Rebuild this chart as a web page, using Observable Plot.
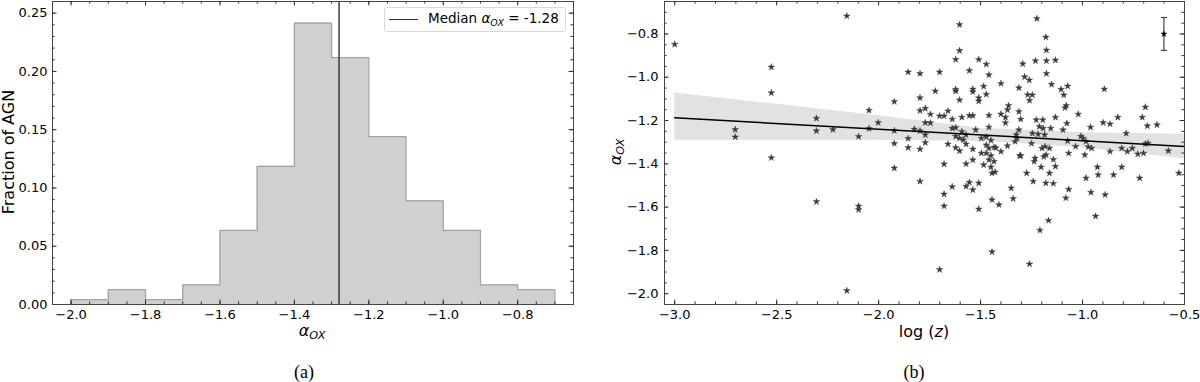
<!DOCTYPE html>
<html>
<head>
<meta charset="utf-8">
<script src="https://cdn.jsdelivr.net/npm/d3@7"></script>
<script src="https://cdn.jsdelivr.net/npm/@observablehq/plot@0.6"></script>
<style>
  html, body { margin: 0; padding: 0; background: #fff; }
  #wrap { position: relative; width: 1200px; height: 382px; overflow: hidden; font-family: "DejaVu Sans", sans-serif; }
  #wrap svg { position: absolute; top: 0; }
  .lbl { position: absolute; transform: translate(-50%, -50%); white-space: nowrap; font-family: "DejaVu Sans", sans-serif; font-size: 16px; color: #000; line-height: 1; }
  .rot { transform: translate(-50%, -50%) rotate(-90deg); }
  .cap { position: absolute; transform: translate(-50%, -50%); font-family: "Liberation Serif", "Times New Roman", serif; font-size: 18px; color: #000; line-height: 1; }
  .m { font-style: italic; }
  .m sub { font-size: 0.7em; font-style: italic; vertical-align: -0.3em; }
  #legend { position: absolute; left: 384px; top: 7px; width: 180px; height: 23px; border: 1px solid #d9d9d9; border-radius: 3px; background: rgba(255,255,255,0.85); font-family: "DejaVu Sans", sans-serif; font-size: 13.5px; }
  #legend .sw { position: absolute; left: 4px; top: 11px; width: 29px; border-top: 1.4px solid #333; }
  #legend .tx { position: absolute; left: 43px; top: 11.5px; transform: translateY(-50%); white-space: nowrap; line-height: 1; }
</style>
</head>
<body>
<div id="wrap"></div>
<script>
// ---------- Panel (a): histogram of alpha_OX ----------
const binStart = [-2.0, -1.9, -1.8, -1.7, -1.6, -1.5, -1.4, -1.3, -1.2, -1.1, -1.0, -0.9, -0.8];
const binEnd = -0.7;
const fraction = [0.0042, 0.0127, 0.0042, 0.0169, 0.0636, 0.1186, 0.2415, 0.2119, 0.1441, 0.0890, 0.0636, 0.0169, 0.0127];
const medianAlpha = -1.28;
const xTicksA = [-2.0, -1.8, -1.6, -1.4, -1.2, -1.0, -0.8];
const yTicksA = [0.00, 0.05, 0.10, 0.15, 0.20, 0.25];

// ---------- Panel (b): alpha_OX vs log z ----------
const logZ = [-3.000,-2.703,-2.703,-2.526,-2.526,-2.526,-2.305,-2.305,-2.305,-2.224,-2.156,-2.156,-2.098,-2.098,-2.098,-2.047,-2.047,-2.002,-1.923,-1.923,
-1.923,-1.923,-1.855,-1.855,-1.855,-1.825,-1.797,-1.797,-1.797,-1.797,-1.797,-1.797,-1.771,-1.771,-1.771,-1.771,-1.746,-1.746,-1.722,-1.701,
-1.701,-1.701,-1.679,-1.679,-1.679,-1.679,-1.660,-1.660,-1.639,-1.639,-1.639,-1.622,-1.622,-1.622,-1.622,-1.622,-1.622,-1.603,-1.603,-1.603,
-1.603,-1.603,-1.592,-1.592,-1.585,-1.571,-1.571,-1.571,-1.571,-1.555,-1.555,-1.555,-1.538,-1.538,-1.538,-1.538,-1.538,-1.538,-1.524,-1.509,
-1.509,-1.509,-1.509,-1.509,-1.496,-1.496,-1.485,-1.485,-1.472,-1.472,-1.472,-1.472,-1.472,-1.459,-1.459,-1.459,-1.459,-1.459,-1.449,-1.449,
-1.449,-1.444,-1.444,-1.444,-1.434,-1.434,-1.429,-1.425,-1.410,-1.400,-1.400,-1.400,-1.378,-1.378,-1.368,-1.363,-1.368,-1.350,-1.340,-1.331,
-1.325,-1.321,-1.312,-1.312,-1.312,-1.308,-1.303,-1.303,-1.293,-1.284,-1.274,-1.269,-1.261,-1.260,-1.260,-1.250,-1.246,-1.246,-1.242,-1.237,
-1.233,-1.231,-1.227,-1.224,-1.218,-1.212,-1.209,-1.203,-1.199,-1.195,-1.193,-1.190,-1.186,-1.184,-1.180,-1.180,-1.179,-1.177,-1.177,-1.177,
-1.167,-1.162,-1.162,-1.156,-1.152,-1.143,-1.143,-1.133,-1.133,-1.133,-1.105,-1.096,-1.092,-1.086,-1.082,-1.080,-1.077,-1.073,-1.073,-1.068,
-1.068,-1.034,-1.021,-1.008,-0.997,-0.989,-0.983,-0.983,-0.972,-0.961,-0.959,-0.955,-0.936,-0.927,-0.923,-0.899,-0.893,-0.889,-0.865,-0.865,
-0.848,-0.827,-0.808,-0.808,-0.786,-0.780,-0.756,-0.729,-0.720,-0.707,-0.701,-0.692,-0.692,-0.682,-0.679,-0.635,-0.579,-0.528];
const alphaOX = [-0.848,-1.242,-1.276,-0.953,-1.072,-1.372,-1.190,-1.248,-1.575,-1.242,-0.717,-1.986,-1.274,-1.595,-1.612,-1.153,-1.237,-1.210,-1.113,-1.247,
-1.306,-1.420,-0.976,-1.283,-1.325,-1.240,-0.983,-1.095,-1.154,-1.248,-1.332,-1.481,-1.144,-1.210,-1.266,-1.302,-1.171,-1.211,-1.064,-0.976,
-1.179,-1.889,-1.179,-1.401,-1.540,-1.595,-1.156,-1.309,-1.194,-1.236,-1.506,-0.918,-1.056,-1.064,-1.233,-1.273,-1.325,-0.757,-0.877,-1.105,
-1.282,-1.340,-1.185,-1.251,-1.289,-1.266,-1.309,-1.400,-1.504,-0.969,-1.177,-1.486,-1.055,-1.067,-1.177,-1.332,-1.382,-1.520,-1.243,-0.918,
-1.095,-1.110,-1.489,-1.609,-1.282,-1.351,-1.042,-1.405,-0.940,-1.079,-1.276,-1.313,-1.351,-0.989,-1.176,-1.231,-1.328,-1.382,-1.292,-1.362,
-1.415,-1.443,-1.566,-1.807,-1.323,-1.389,-1.438,-1.326,-1.589,-1.029,-1.170,-1.343,-1.185,-1.211,-1.151,-1.131,-1.317,-1.512,-1.561,-1.297,
-1.266,-1.282,-1.049,-1.159,-1.243,-1.363,-1.194,-1.362,-0.938,-0.998,-1.443,-1.081,-1.013,-1.107,-1.863,-1.306,-1.082,-1.259,-1.481,-1.389,
-1.374,-0.924,-1.197,-0.729,-1.263,-1.228,-1.707,-1.415,-1.328,-1.197,-1.236,-1.367,-1.266,-1.320,-0.815,-1.489,-1.359,-0.875,-0.924,-0.983,
-1.662,-1.328,-1.443,-1.236,-1.033,-1.380,-1.491,-0.921,-1.185,-1.412,-1.056,-1.243,-1.082,-1.141,-1.558,-1.131,-1.213,-1.041,-1.294,-1.351,
-1.518,-1.320,-1.171,-1.273,-1.282,-1.359,-1.297,-1.466,-1.322,-1.231,-1.532,-1.328,-1.642,-1.415,-1.451,-1.210,-1.055,-1.543,-1.216,-1.343,
-1.451,-1.185,-1.328,-1.415,-1.259,-1.343,-1.328,-1.355,-1.466,-1.185,-1.351,-1.138,-1.308,-1.225,-1.305,-1.220,-1.340,-1.443];
// regression fit and its confidence band
const fitX = [-3.0, -0.5];
const fitY = [-1.187, -1.320];
const bandX = [-3.0, -2.5, -2.0, -1.5, -1.0, -0.5];
const bandHi = [-1.073, -1.125, -1.178, -1.236, -1.257, -1.263];
const bandLo = [-1.291, -1.291, -1.291, -1.296, -1.326, -1.377];
// typical error bar
const errX = [-0.601];
const errY = [-0.80];
const errHi = [-0.724];
const errLo = [-0.876];
const xTicksB = [-3.0, -2.5, -2.0, -1.5, -1.0, -0.5];
const yTicksB = [-2.0, -1.8, -1.6, -1.4, -1.2, -1.0, -0.8];

// ---------- helpers ----------
const H = 382, MT = 1, MB = 78;
const FH = H - MT - MB;
const MAJ = 4.5, MIN = 2.6;
const tickCol = "#333";
function stepTicks(lo, hi, step) {
  const n = Math.round((hi - lo) / step);
  const out = [];
  for (let i = 0; i <= n; i++) out.push(+(lo + i * step).toFixed(4));
  return out;
}
function insideTicks(xMaj, xMin, yMaj, yMin, fw) {
  const s = {stroke: tickCol, strokeWidth: 1};
  return [
    Plot.tickX(xMaj, {x: d => d, insetTop: FH - MAJ, ...s}),
    Plot.tickX(xMaj, {x: d => d, insetBottom: FH - MAJ, ...s}),
    Plot.tickX(xMin, {x: d => d, insetTop: FH - MIN, ...s}),
    Plot.tickX(xMin, {x: d => d, insetBottom: FH - MIN, ...s}),
    Plot.tickY(yMaj, {y: d => d, insetRight: fw - MAJ, ...s}),
    Plot.tickY(yMaj, {y: d => d, insetLeft: fw - MAJ, ...s}),
    Plot.tickY(yMin, {y: d => d, insetRight: fw - MIN, ...s}),
    Plot.tickY(yMin, {y: d => d, insetLeft: fw - MIN, ...s})
  ];
}
const baseStyle = {fontFamily: "DejaVu Sans, sans-serif", fontSize: "13px", color: "#000", background: "transparent", overflow: "visible"};

// ---------- build panel (a) ----------
const histPts = binStart.map((x, i) => ({x, y: fraction[i]}));
histPts.push({x: binEnd, y: fraction[fraction.length - 1]});
const outline = [{x: binStart[0], y: 0}, ...histPts, {x: binEnd, y: 0}];
const mlA = 52, mrA = 27, fwA = 600 - mlA - mrA;
const plotA = Plot.plot({
  width: 600, height: H,
  marginLeft: mlA, marginRight: mrA, marginTop: MT, marginBottom: MB,
  x: {domain: [-2.05, -0.65]},
  y: {domain: [0, 0.26]},
  style: baseStyle,
  marks: [
    Plot.areaY(histPts, {x: "x", y: "y", curve: "step-after", fill: "#d0d0d0"}),
    Plot.line(outline, {x: "x", y: "y", curve: "step-after", stroke: "#a3a3a3", strokeWidth: 1.3}),
    Plot.ruleX([medianAlpha], {stroke: "#222", strokeWidth: 1.3}),
    ...insideTicks(xTicksA, stepTicks(-2.05, -0.65, 0.05), yTicksA, stepTicks(0, 0.26, 0.01), fwA),
    Plot.frame({stroke: "#444", strokeWidth: 1}),
    Plot.axisX(xTicksA, {tickSize: 0, tickPadding: 5, tickFormat: d3.format(".1f"), label: null}),
    Plot.axisY(yTicksA, {tickSize: 0, tickPadding: 5, tickFormat: d3.format(".2f"), label: null})
  ]
});
plotA.style.left = "0px";

// ---------- build panel (b) ----------
const pts = logZ.map((x, i) => ({x, y: alphaOX[i]}));
const fit = fitX.map((x, i) => ({x, y: fitY[i]}));
const band = bandX.map((x, i) => ({x, hi: bandHi[i], lo: bandLo[i]}));
const err = errX.map((x, i) => ({x, y: errY[i], hi: errHi[i], lo: errLo[i]}));
const capSymbol = {draw(ctx, size) { const w = Math.sqrt(size / Math.PI); ctx.moveTo(-w, 0); ctx.lineTo(w, 0); }};
const mlB = 64, mrB = 16, fwB = 600 - mlB - mrB;
const plotB = Plot.plot({
  width: 600, height: H,
  marginLeft: mlB, marginRight: mrB, marginTop: MT, marginBottom: MB,
  x: {domain: [-3.05, -0.5]},
  y: {domain: [-2.05, -0.65]},
  style: baseStyle,
  marks: [
    Plot.areaY(band, {x: "x", y1: "lo", y2: "hi", fill: "#e2e2e2"}),
    Plot.dot(pts, {x: "x", y: "y", symbol: "star", r: 2.1, fill: "#3a3a3a", stroke: "#3a3a3a", strokeWidth: 0.4}),
    Plot.line(fit, {x: "x", y: "y", stroke: "#000", strokeWidth: 1.5}),
    Plot.ruleX(err, {x: "x", y1: "lo", y2: "hi", stroke: "#444", strokeWidth: 1.2}),
    Plot.dot(err, {x: "x", y: "hi", symbol: capSymbol, r: 3, fill: "none", stroke: "#444", strokeWidth: 1.2}),
    Plot.dot(err, {x: "x", y: "lo", symbol: capSymbol, r: 3, fill: "none", stroke: "#444", strokeWidth: 1.2}),
    Plot.dot(err, {x: "x", y: "y", symbol: "star", r: 2.2, fill: "#000", stroke: "none"}),
    ...insideTicks(xTicksB, stepTicks(-3.0, -0.5, 0.1), yTicksB, stepTicks(-2.05, -0.65, 0.05), fwB),
    Plot.frame({stroke: "#444", strokeWidth: 1}),
    Plot.axisX(xTicksB, {tickSize: 0, tickPadding: 5, tickFormat: d3.format(".1f"), label: null}),
    Plot.axisY(yTicksB, {tickSize: 0, tickPadding: 6, tickFormat: d3.format(".1f"), label: null})
  ]
});
plotB.style.left = "600px";

const wrap = document.getElementById("wrap");
wrap.appendChild(plotA);
wrap.appendChild(plotB);

function addLabel(html, x, y, cls) {
  const d = document.createElement("div");
  d.className = cls;
  d.style.left = x + "px";
  d.style.top = y + "px";
  d.innerHTML = html;
  wrap.appendChild(d);
}
const alphaHTML = '<span class="m">α<sub>OX</sub></span>';
addLabel("Fraction of AGN", 9, 152, "lbl rot");
addLabel(alphaHTML, 312, 332, "lbl");
addLabel(alphaHTML, 617, 152, "lbl rot");
addLabel('log (<span class="m">z</span>)', 924, 332, "lbl");
addLabel("(a)", 304, 372, "cap");
addLabel("(b)", 914, 372, "cap");

const lg = document.createElement("div");
lg.id = "legend";
lg.innerHTML = '<div class="sw"></div><div class="tx">Median <span class="m">α<sub>OX</sub></span> = -1.28</div>';
wrap.appendChild(lg);
</script>
</body>
</html>
